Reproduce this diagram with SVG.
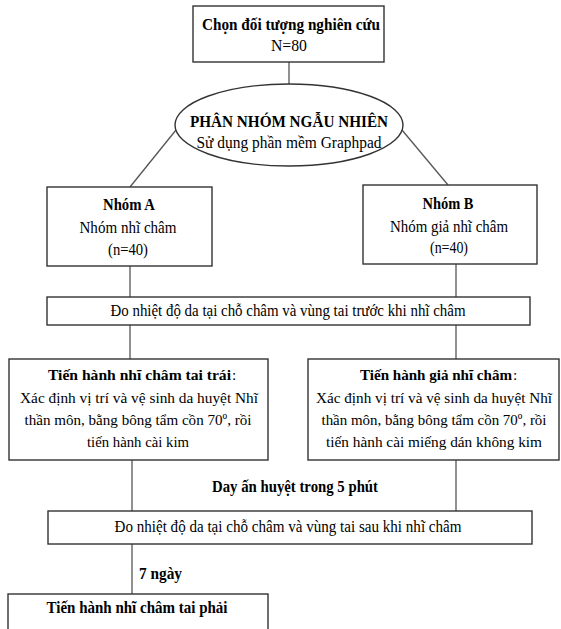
<svg xmlns="http://www.w3.org/2000/svg" width="561" height="629" viewBox="0 0 561 629">
<style>
.box{fill:#fff;stroke:#333;stroke-width:1.4}
.ln{fill:none;stroke:#555;stroke-width:1.3}
text{font-family:'Liberation Serif','DejaVu Serif',serif;font-size:16.5px;fill:#000;text-anchor:middle}
.t text{font-size:15.3px}
.b{font-weight:bold}
.s{text-anchor:start}
</style>
<rect width="561" height="629" fill="#fff"/>
<g id="connectors">
<line class="ln" x1="289" y1="62" x2="289" y2="84"/>
<line class="ln" x1="176" y1="130" x2="130" y2="187"/>
<line class="ln" x1="402" y1="130" x2="448" y2="185"/>
<line class="ln" x1="130" y1="266" x2="130" y2="297"/>
<line class="ln" x1="456" y1="264" x2="456" y2="297"/>
<line class="ln" x1="130" y1="325" x2="130" y2="359"/>
<line class="ln" x1="456" y1="325" x2="456" y2="359"/>
<line class="ln" x1="132" y1="460" x2="132" y2="511"/>
<line class="ln" x1="456" y1="460" x2="456" y2="511"/>
<line class="ln" x1="132" y1="544" x2="132" y2="594"/>
<text class="b" x="295" y="492" textLength="166" lengthAdjust="spacingAndGlyphs">Day ấn huyệt trong 5 phút</text>
<text class="b s" x="139" y="579" textLength="43" lengthAdjust="spacingAndGlyphs">7 ngày</text>
</g>
<g id="start">
<rect class="box" x="193" y="6" width="191" height="56"/>
<text class="b" x="291" y="30" textLength="178" lengthAdjust="spacingAndGlyphs">Chọn đối tượng nghiên cứu</text>
<text x="289" y="51" textLength="36" lengthAdjust="spacingAndGlyphs">N=80</text>
</g>
<g id="random">
<ellipse class="box" cx="289" cy="125" rx="114" ry="41"/>
<text class="b" x="289" y="127" textLength="198" lengthAdjust="spacingAndGlyphs">PHÂN NHÓM NGẪU NHIÊN</text>
<text x="289" y="148" textLength="185" lengthAdjust="spacingAndGlyphs">Sử dụng phần mềm Graphpad</text>
</g>
<g id="groupA">
<rect class="box" x="47" y="187" width="165" height="79"/>
<text class="b" x="129" y="210" textLength="52" lengthAdjust="spacingAndGlyphs">Nhóm A</text>
<text x="128" y="233" textLength="97" lengthAdjust="spacingAndGlyphs">Nhóm nhĩ châm</text>
<text x="128" y="255" textLength="40" lengthAdjust="spacingAndGlyphs">(n=40)</text>
</g>
<g id="groupB">
<rect class="box" x="363" y="185" width="174" height="79"/>
<text class="b" x="448" y="209" textLength="51" lengthAdjust="spacingAndGlyphs">Nhóm B</text>
<text x="449" y="232" textLength="118" lengthAdjust="spacingAndGlyphs">Nhóm giả nhĩ châm</text>
<text x="449" y="253" textLength="38" lengthAdjust="spacingAndGlyphs">(n=40)</text>
</g>
<g id="measureBefore">
<rect class="box" x="47" y="297" width="483" height="28"/>
<text x="288" y="316" textLength="355" lengthAdjust="spacingAndGlyphs">Đo nhiệt độ da tại chỗ châm và vùng tai trước khi nhĩ châm</text>
</g>
<g id="treatLeft" class="t">
<rect class="box" x="9" y="359" width="259" height="101"/>
<text class="b s" x="48" y="380" textLength="183" lengthAdjust="spacingAndGlyphs">Tiến hành nhĩ châm tai trái</text>
<text class="s" x="232" y="380">:</text>
<text x="139" y="403" textLength="238" lengthAdjust="spacingAndGlyphs">Xác định vị trí và vệ sinh da huyệt Nhĩ</text>
<text x="138" y="425" textLength="227" lengthAdjust="spacingAndGlyphs">thần môn, bằng bông tẩm cồn 70º, rồi</text>
<text x="138" y="447" textLength="102" lengthAdjust="spacingAndGlyphs">tiến hành cài kim</text>
</g>
<g id="treatRight" class="t">
<rect class="box" x="308" y="359" width="251" height="101"/>
<text class="b s" x="360" y="380" textLength="152" lengthAdjust="spacingAndGlyphs">Tiến hành giả nhĩ châm</text>
<text class="s" x="513" y="380">:</text>
<text x="434" y="403" textLength="236" lengthAdjust="spacingAndGlyphs">Xác định vị trí và vệ sinh da huyệt Nhĩ</text>
<text x="434" y="425" textLength="225" lengthAdjust="spacingAndGlyphs">thần môn, bằng bông tẩm cồn 70º, rồi</text>
<text x="434" y="447" textLength="216" lengthAdjust="spacingAndGlyphs">tiến hành cài miếng dán không kim</text>
</g>
<g id="measureAfter">
<rect class="box" x="48" y="511" width="484" height="33"/>
<text x="288" y="532" textLength="347" lengthAdjust="spacingAndGlyphs">Đo nhiệt độ da tại chỗ châm và vùng tai sau khi nhĩ châm</text>
</g>
<g id="rightEar">
<rect class="box" x="8" y="594" width="260" height="50"/>
<text class="b" x="137" y="613" textLength="181" lengthAdjust="spacingAndGlyphs">Tiến hành nhĩ châm tai phải</text>
</g>
</svg>
